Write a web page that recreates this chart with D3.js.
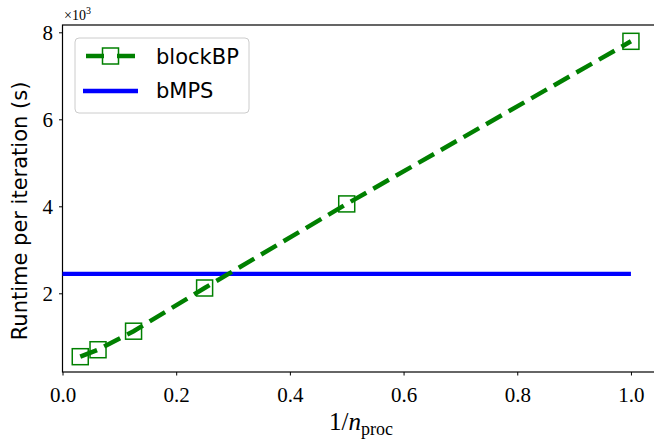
<!DOCTYPE html>
<html>
<head>
<meta charset="utf-8">
<script src="https://cdn.jsdelivr.net/npm/d3@7"></script>
<style>
  body { margin: 0; background: #fff; }
  svg { display: block; }
  .tick text { font-family: "Liberation Serif", "DejaVu Serif", serif; font-size: 21px; fill: #000; }
  .lab { font-family: "DejaVu Sans", sans-serif; font-size: 20px; fill: #000; }
</style>
</head>
<body>
<svg width="654" height="441"></svg>
<script>
// data
const invProcs = [1 / 32, 1 / 16, 1 / 8, 1 / 4, 1 / 2, 1];
const blockBP = [543, 703, 1129, 2122, 4055, 7793];
const bMPS = 2448;
const bMPSRange = [0, 1];
const xTicks = [0, 0.2, 0.4, 0.6, 0.8, 1.0];
const yTicks = [2000, 4000, 6000, 8000];
const seriesNames = ["blockBP", "bMPS"];

const svg = d3.select("svg");
const plotL = 62.5, plotT = 25, plotR = 658, plotB = 372;

const x = d3.scaleLinear().domain([0, 1.0476]).range([plotL, plotR]);
const y = d3.scaleLinear().domain([191, 8168]).range([plotB, plotT]);

const green = "#008000", blue = "#0000ff";

// axes
const xAxis = d3.axisBottom(x).tickValues(xTicks).tickFormat(d3.format(".1f")).tickSize(3.5).tickPadding(7);
const yAxis = d3.axisLeft(y).tickValues(yTicks).tickFormat(d => d / 1000).tickSize(3.5).tickPadding(6);

const gX = svg.append("g").attr("transform", `translate(0,${plotB})`).call(xAxis);
const gY = svg.append("g").attr("transform", `translate(${plotL},0)`).call(yAxis);
[gX, gY].forEach(g => {
  g.select(".domain").remove();
  g.selectAll(".tick line").attr("stroke", "#000").attr("stroke-width", 1);
});
gX.selectAll(".tick text").attr("dy", "0.95em");

// frame
svg.append("rect")
  .attr("x", plotL).attr("y", plotT)
  .attr("width", plotR - plotL).attr("height", plotB - plotT)
  .attr("fill", "none").attr("stroke", "#000").attr("stroke-width", 1.2);

// bMPS horizontal line
svg.append("line")
  .attr("x1", x(bMPSRange[0])).attr("x2", x(bMPSRange[1]))
  .attr("y1", y(bMPS)).attr("y2", y(bMPS))
  .attr("stroke", blue).attr("stroke-width", 4.3);

// blockBP dashed line
const line = d3.line().x((d, i) => x(invProcs[i])).y(d => y(d));
svg.append("path")
  .datum(blockBP)
  .attr("d", line)
  .attr("fill", "none")
  .attr("stroke", green).attr("stroke-width", 4.5)
  .attr("stroke-dasharray", "18,8");

svg.selectAll("rect.marker")
  .data(blockBP)
  .enter()
  .append("rect").attr("class", "marker")
  .attr("x", (d, i) => x(invProcs[i]) - 8)
  .attr("y", d => y(d) - 8)
  .attr("width", 16).attr("height", 16)
  .attr("fill", "none")
  .attr("stroke", green).attr("stroke-width", 1.5);

// multiplier
const mult = svg.append("text")
  .attr("x", 64).attr("y", 20)
  .attr("font-family", "Liberation Serif, DejaVu Serif, serif")
  .attr("font-size", 14);
mult.append("tspan").text("\u00d710");
mult.append("tspan").attr("font-size", 10).attr("dy", -6).text("3");

// y label
svg.append("text").attr("class", "lab")
  .attr("transform", "translate(27,211) rotate(-90)")
  .attr("text-anchor", "middle")
  .style("font-size", "21px")
  .text("Runtime per iteration (s)");

// x label
const xl = svg.append("text")
  .attr("x", 361).attr("y", 430)
  .attr("text-anchor", "middle")
  .attr("font-family", "Liberation Serif, DejaVu Serif, serif")
  .attr("font-size", 25);
xl.append("tspan").text("1/");
xl.append("tspan").attr("font-style", "italic").text("n");
xl.append("tspan").attr("font-size", 18).attr("dy", 5).text("proc");

// legend
const legend = svg.append("g");
legend.append("rect")
  .attr("x", 75).attr("y", 38).attr("width", 174).attr("height", 75)
  .attr("rx", 4)
  .attr("fill", "#fff").attr("fill-opacity", 0.8)
  .attr("stroke", "#cccccc").attr("stroke-width", 1);

legend.append("line")
  .attr("x1", 86).attr("x2", 135).attr("y1", 56).attr("y2", 56)
  .attr("stroke", green).attr("stroke-width", 4.5)
  .attr("stroke-dasharray", "18,13");
legend.append("rect")
  .attr("x", 102.5).attr("y", 48).attr("width", 16).attr("height", 16)
  .attr("fill", "none").attr("stroke", green).attr("stroke-width", 1.5);
legend.append("line")
  .attr("x1", 83).attr("x2", 138).attr("y1", 91).attr("y2", 91)
  .attr("stroke", blue).attr("stroke-width", 4.3);

legend.selectAll("text.leg")
  .data(seriesNames)
  .enter()
  .append("text").attr("class", "lab leg")
  .attr("x", 156).attr("y", (d, i) => 64 + i * 34)
  .style("font-size", "21px")
  .text(d => d);
</script>
</body>
</html>
